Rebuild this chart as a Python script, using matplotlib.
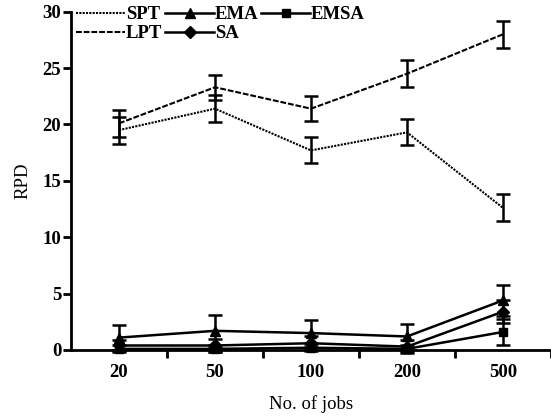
import numpy as np
import matplotlib
matplotlib.use('Agg')
import matplotlib.pyplot as plt

plt.rcParams['font.family'] = ['Liberation Serif', 'DejaVu Serif']
plt.rcParams['font.weight'] = 'bold'

jobs = ['20', '50', '100', '200', '500']

# RPD gjennomsnitt og feil (lest av figuren)
spt = [19.5, 21.4, 17.7, 19.3, 12.6]
spt_err = [1.2, 1.2, 1.15, 1.15, 1.2]
lpt = [20.1, 23.3, 21.4, 24.5, 28.0]
lpt_err = [1.2, 1.1, 1.1, 1.2, 1.2]
ema = [1.1, 1.7, 1.5, 1.2, 4.4]
ema_err = [1.1, 1.4, 1.2, 1.1, 1.4]
sa = [0.4, 0.4, 0.6, 0.3, 3.4]
sa_err = [0.5, 0.6, 0.6, 0.6, 1.0]
emsa = [0.1, 0.1, 0.2, 0.1, 1.6]
emsa_err = [0.3, 0.3, 0.3, 0.3, 1.15]

x = np.arange(len(jobs))

fig = plt.figure(figsize=(5.51, 4.17), dpi=100)
ax = fig.add_axes([71 / 551, 67 / 417, 480 / 551, 338.3 / 417])

ekw = dict(color='black', ecolor='black', elinewidth=1.8, capsize=5, capthick=1.8,
           clip_on=False, zorder=3)

l_spt = ax.errorbar(x, spt, yerr=spt_err, linestyle=(0, (1.0, 0.6)), linewidth=1.5,
                    label='SPT', **ekw)
l_lpt = ax.errorbar(x, lpt, yerr=lpt_err, linestyle=(0, (2.8, 0.9)), linewidth=1.5,
                    label='LPT', **ekw)
l_ema = ax.errorbar(x, ema, yerr=ema_err, linestyle='-', linewidth=1.8, marker='^',
                    markersize=7, label='EMA', **ekw)
l_sa = ax.errorbar(x, sa, yerr=sa_err, linestyle='-', linewidth=1.8, marker='D',
                   markersize=6, label='SA', **ekw)
l_emsa = ax.errorbar(x, emsa, yerr=emsa_err, linestyle='-', linewidth=1.8, marker='s',
                     markersize=6, label='EMSA', **ekw)

ax.set_xlim(-0.5, 4.5)
ax.set_ylim(0, 30)
ax.set_yticks([0, 5, 10, 15, 20, 25, 30])
ax.set_xticks(x)
ax.set_xticklabels(jobs)
ax.set_xticks([0.5, 1.5, 2.5, 3.5, 4.5], minor=True)
ax.tick_params(axis='x', which='major', length=0, pad=10, labelsize=13.5)
ax.tick_params(axis='x', which='minor', length=6, width=2, direction='out')
ax.tick_params(axis='y', length=6, width=2, direction='out', labelsize=13.5, pad=1)

for s in ['top', 'right']:
    ax.spines[s].set_visible(False)
for s in ['left', 'bottom']:
    ax.spines[s].set_linewidth(2)

ax.set_xlabel('No. of jobs', fontsize=13.5, labelpad=10)
ax.set_ylabel('RPD', fontsize=13.5, labelpad=8)

handles = [l_spt, l_lpt, l_ema, l_sa, l_emsa]
labels = ['SPT', 'LPT', 'EMA', 'SA', 'EMSA']
handles = [h[0] for h in handles]
ax.legend(handles, labels, ncol=3, loc='upper left', bbox_to_anchor=(-0.012, 1.05),
          frameon=False, fontsize=13.5, handlelength=2.6, handletextpad=0.05,
          columnspacing=0.15, labelspacing=0.1, borderaxespad=0.2)

plt.savefig('out.png', dpi=100)
